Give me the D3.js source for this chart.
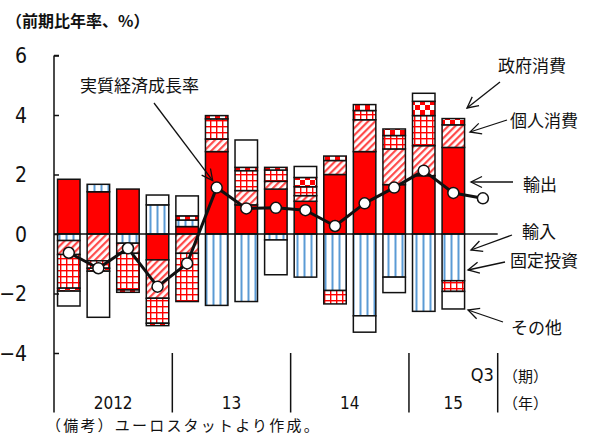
<!DOCTYPE html>
<html>
<head>
<meta charset="utf-8">
<script src="https://cdn.jsdelivr.net/npm/d3@7/dist/d3.min.js"></script>
<style>
  html, body { margin: 0; padding: 0; background: #fff; }
  svg { display: block; }
  .jp { font-family: "Noto Sans CJK JP", "Noto Sans", sans-serif; fill: #111; }
  .num { font-family: "Liberation Sans Narrow", "DejaVu Sans Condensed", "Liberation Sans", sans-serif; fill: #111; }
</style>
</head>
<body>
<svg id="chart" width="590" height="435"></svg>
<script>
// Quarters 2012Q1 .. 2015Q3 (contributions not yet available for 2015Q3)
const quarters = ["2012Q1","2012Q2","2012Q3","2012Q4","2013Q1","2013Q2","2013Q3","2013Q4",
                  "2014Q1","2014Q2","2014Q3","2014Q4","2015Q1","2015Q2","2015Q3"];
const years = [
  { label: "2012", from: "2012Q1", to: "2012Q4" },
  { label: "13",   from: "2013Q1", to: "2013Q4" },
  { label: "14",   from: "2014Q1", to: "2014Q4" },
  { label: "15",   from: "2015Q1", to: "2015Q3" }
];
const yTicks = [6, 4, 2, 0, -2, -4];

// Contributions to growth (% points, annualised q/q)
const exportsC   = [1.84, 1.42, 1.51, -0.87, 0.25, 2.77, 0.98, 1.51, 1.10, 2.00, 2.77, 1.66, 1.96, 2.91, null];
const importsC   = [-0.22, 0.25, -0.31, 0.98, 0.22, -2.40, -2.27, -0.20, -1.45, -1.90, -2.75, -1.45, -2.60, -1.57, null];
const consumerC  = [-0.47, -0.90, -0.34, -1.29, -0.65, 0.42, 0.48, 0.26, 0.19, 0.47, 1.07, 1.20, 1.01, 0.76, null];
const investC    = [-1.13, -0.25, -1.23, -0.84, -1.62, 0.68, 0.67, 0.38, 0.30, -0.45, 0.31, 0.45, 1.01, -0.36, null];
const governC    = [-0.10, -0.10, -0.08, -0.08, 0.14, 0.11, 0.11, 0.09, 0.31, 0.15, 0.20, 0.22, 0.48, 0.21, null];
const otherC     = [-0.50, -1.55, 0.00, 0.33, 0.67, 0.00, 0.92, -1.17, 0.37, 0.00, -0.55, -0.52, 0.27, -0.59, null];
// Real GDP growth
const gdpGrowth  = [-0.63, -1.15, -0.48, -1.77, -0.99, 1.56, 0.86, 0.88, 0.80, 0.27, 1.03, 1.56, 2.13, 1.38, 1.20];

const seriesKeys  = ["輸出", "輸入", "個人消費", "固定投資", "政府消費", "その他"];
const seriesData  = [exportsC, importsC, consumerC, investC, governC, otherC];
const seriesFills = ["#ff0000", "url(#pImport)", "url(#pHatch)", "url(#pGrid)", "url(#pChecker)", "#ffffff"];

const rows = quarters.map((q, i) => {
  const r = { q };
  seriesKeys.forEach((k, j) => { r[k] = seriesData[j][i]; });
  return r;
}).filter(r => r[seriesKeys[0]] !== null);

const svg = d3.select("#chart");

// ---- patterns ----
const defs = svg.append("defs");
const pImp = defs.append("pattern").attr("id", "pImport").attr("patternUnits", "userSpaceOnUse")
  .attr("width", 7).attr("height", 7);
pImp.append("rect").attr("width", 7).attr("height", 7).attr("fill", "#fff");
pImp.append("rect").attr("x", 2.5).attr("width", 2).attr("height", 7).attr("fill", "#5b9bd5");

const pHat = defs.append("pattern").attr("id", "pHatch").attr("patternUnits", "userSpaceOnUse")
  .attr("width", 5).attr("height", 5).attr("patternTransform", "rotate(45)");
pHat.append("rect").attr("width", 5).attr("height", 5).attr("fill", "#fff");
pHat.append("rect").attr("width", 2.2).attr("height", 5).attr("fill", "#ff4a4a");

const pGrid = defs.append("pattern").attr("id", "pGrid").attr("patternUnits", "userSpaceOnUse")
  .attr("width", 6).attr("height", 6);
pGrid.append("rect").attr("width", 6).attr("height", 6).attr("fill", "#fff");
pGrid.append("rect").attr("width", 6).attr("height", 1.4).attr("fill", "#ff0000");
pGrid.append("rect").attr("width", 1.4).attr("height", 6).attr("fill", "#ff0000");

const pChk = defs.append("pattern").attr("id", "pChecker").attr("patternUnits", "userSpaceOnUse")
  .attr("width", 10).attr("height", 10);
pChk.append("rect").attr("width", 10).attr("height", 10).attr("fill", "#fff");
pChk.append("rect").attr("width", 5).attr("height", 5).attr("fill", "#ff0000");
pChk.append("rect").attr("x", 5).attr("y", 5).attr("width", 5).attr("height", 5).attr("fill", "#ff0000");

const marker = defs.append("marker").attr("id", "arrow").attr("markerUnits", "userSpaceOnUse")
  .attr("viewBox", "-12 -7 14 14").attr("refX", 0).attr("refY", 0)
  .attr("markerWidth", 14).attr("markerHeight", 14).attr("orient", "auto");
marker.append("path").attr("d", "M-11,-5.5 L0,0 L-11,5.5").attr("fill", "none")
  .attr("stroke", "#111").attr("stroke-width", 1.3);

// ---- scales ----
const x = d3.scaleBand().domain(quarters).range([54, 497.7]).paddingInner(0.24).paddingOuter(0.12);
const y = d3.scaleLinear().domain([-6, 6]).range([412.5, 55.5]);
const step = x.step();
const left = x.range()[0];

// ---- stacked bars ----
const stacked = d3.stack().keys(seriesKeys).offset(d3.stackOffsetDiverging)(rows);
const g = svg.append("g");
stacked.forEach((layer, j) => {
  g.append("g").attr("fill", seriesFills[j])
    .selectAll("rect").data(layer.filter(d => d[1] !== d[0])).join("rect")
    .attr("x", d => x(d.data.q))
    .attr("width", x.bandwidth())
    .attr("y", d => y(Math.max(d[0], d[1])))
    .attr("height", d => Math.abs(y(d[0]) - y(d[1])))
    .attr("stroke", "#111").attr("stroke-width", 1.5);
});

// ---- axes ----
const yAxis = svg.append("g").attr("transform", `translate(${left},0)`)
  .call(d3.axisRight(y).tickValues(yTicks).tickSize(5).tickFormat(""));
yAxis.select(".domain").attr("d", `M0,${y(6)}V${y(-6)}M5,${y(6)}H0`).attr("stroke", "#111").attr("stroke-width", 1.5);
yAxis.selectAll(".tick line").attr("stroke", "#111").attr("stroke-width", 1.5);

svg.append("g").selectAll("text").data(yTicks).join("text")
  .attr("class", "num")
  .attr("x", 27).attr("y", d => y(d)).attr("dy", "0.36em")
  .attr("text-anchor", "end").attr("font-size", 21)
  .text(d => d < 0 ? "\u2212" + Math.abs(d) : d);

// zero line
svg.append("line").attr("x1", left).attr("x2", x.range()[1])
  .attr("y1", y(0)).attr("y2", y(0)).attr("stroke", "#111").attr("stroke-width", 1.5);

// year separators and labels
const yearEdges = years.map(yr => x(yr.to) + x.bandwidth() + step * 0.12);
svg.append("g").selectAll("line").data(yearEdges).join("line")
  .attr("x1", d => d).attr("x2", d => d).attr("y1", 353).attr("y2", y(-6))
  .attr("stroke", "#111").attr("stroke-width", 1.5);
svg.append("g").selectAll("text").data(years).join("text")
  .attr("class", "num").attr("font-size", 17).attr("text-anchor", "middle")
  .attr("x", yr => (x(yr.from) - step * 0.12 + x(yr.to) + x.bandwidth() + step * 0.12) / 2)
  .attr("y", 409)
  .text(yr => yr.label);
svg.append("text").attr("class", "num").attr("font-size", 18).attr("text-anchor", "end")
  .attr("x", yearEdges[yearEdges.length - 1] - 4).attr("y", 381).text("Q3");
svg.append("text").attr("class", "jp").attr("font-size", 15).attr("x", 503).attr("y", 382).text("（期）");
svg.append("text").attr("class", "jp").attr("font-size", 15).attr("x", 503).attr("y", 409).text("（年）");

// ---- growth line ----
const line = d3.line().x((d, i) => x(quarters[i]) + x.bandwidth() / 2).y(d => y(d));
svg.append("path").datum(gdpGrowth).attr("d", line)
  .attr("fill", "none").attr("stroke", "#111").attr("stroke-width", 3).attr("stroke-linejoin", "round");
svg.append("g").selectAll("circle").data(gdpGrowth).join("circle")
  .attr("cx", (d, i) => x(quarters[i]) + x.bandwidth() / 2).attr("cy", d => y(d)).attr("r", 5.5)
  .attr("fill", "#fff").attr("stroke", "#111").attr("stroke-width", 1.5);

// ---- labels ----
svg.append("text").attr("class", "jp").attr("font-size", 16).attr("font-weight", "bold")
  .attr("x", 6).attr("y", 27).text("（前期比年率、%）");

svg.append("text").attr("class", "jp").attr("font-size", 17).attr("x", 80).attr("y", 92).text("実質経済成長率");
const gi = 5;
svg.append("line").attr("x1", 154).attr("y1", 103)
  .attr("x2", x(quarters[gi]) + x.bandwidth() / 2 - 4).attr("y2", y(gdpGrowth[gi]) - 7)
  .attr("stroke", "#111").attr("stroke-width", 1.3).attr("marker-end", "url(#arrow)");

const notes = [
  { t: "政府消費", tx: 498, ty: 72, x1: 500, y1: 82,  x2: 467, y2: 108 },
  { t: "個人消費", tx: 510, ty: 127, x1: 507, y1: 120, x2: 470, y2: 132 },
  { t: "輸出",     tx: 523, ty: 191, x1: 513, y1: 182, x2: 471, y2: 182 },
  { t: "輸入",     tx: 522, ty: 238, x1: 512, y1: 235, x2: 471, y2: 250 },
  { t: "固定投資", tx: 510, ty: 267, x1: 505, y1: 262, x2: 468, y2: 270 },
  { t: "その他",   tx: 511, ty: 334, x1: 503, y1: 322, x2: 468, y2: 310 }
];
notes.forEach(n => {
  svg.append("text").attr("class", "jp").attr("font-size", 17).attr("x", n.tx).attr("y", n.ty).text(n.t);
  svg.append("line").attr("x1", n.x1).attr("y1", n.y1).attr("x2", n.x2).attr("y2", n.y2)
    .attr("stroke", "#111").attr("stroke-width", 1.3).attr("marker-end", "url(#arrow)");
});

svg.append("text").attr("class", "jp").attr("font-size", 15).attr("fill", "#333")
  .attr("x", 46).attr("y", 431).attr("letter-spacing", 2.2).text("（備考）ユーロスタットより作成。");
</script>
</body>
</html>
